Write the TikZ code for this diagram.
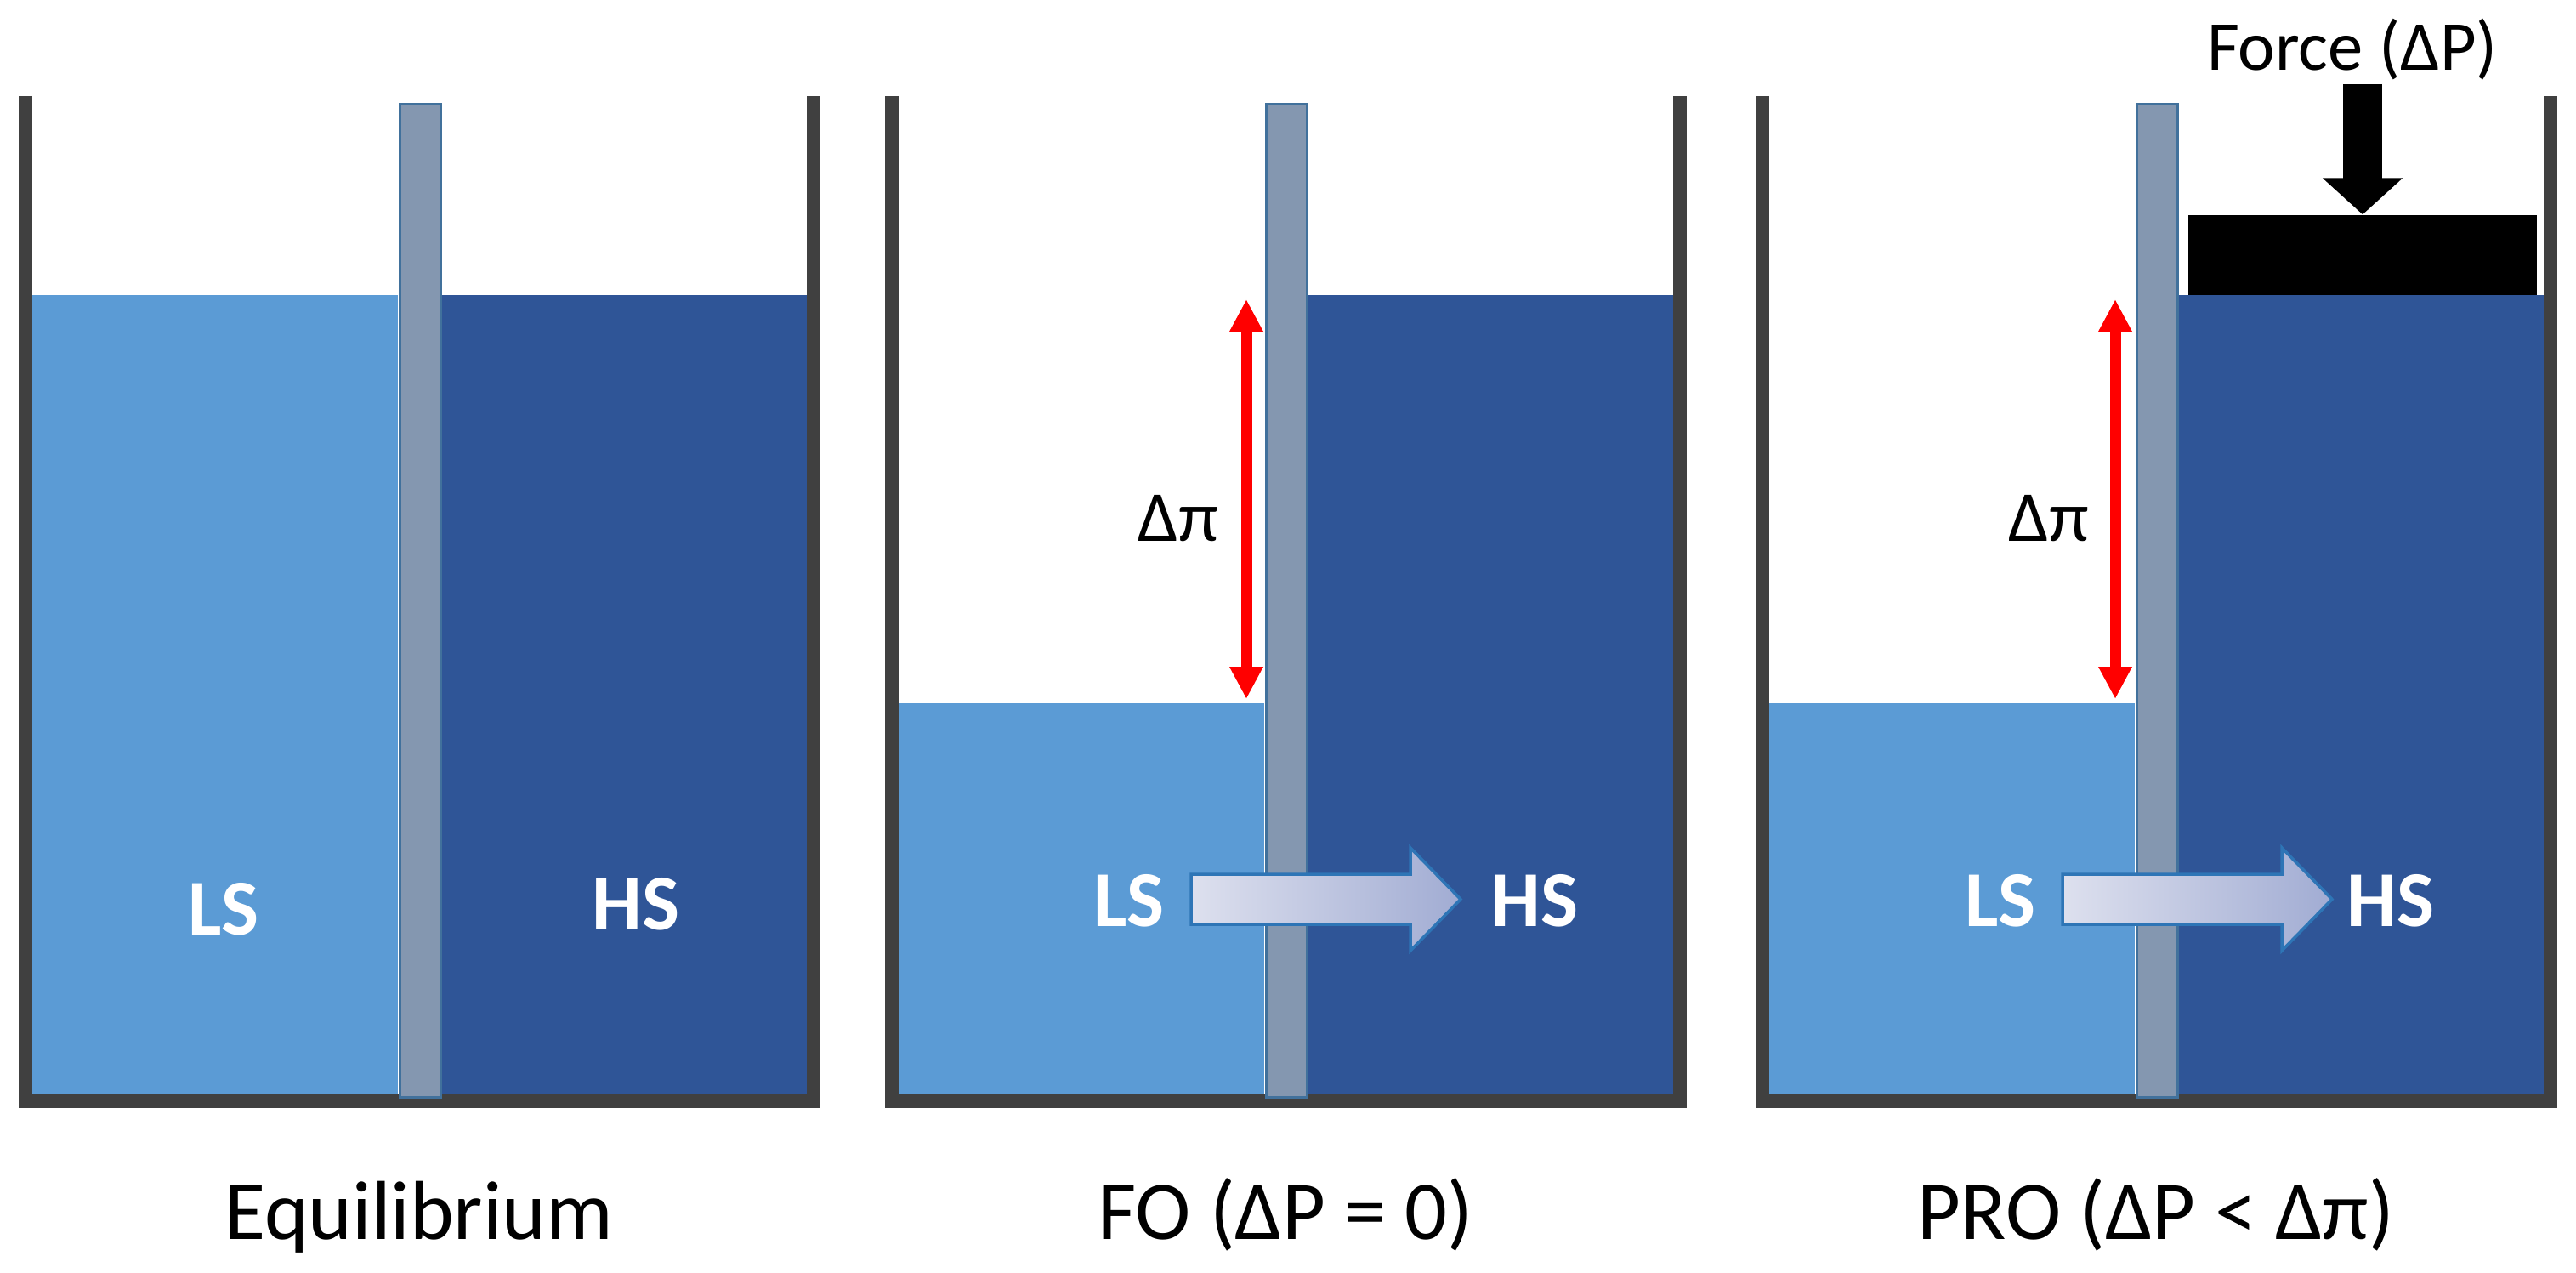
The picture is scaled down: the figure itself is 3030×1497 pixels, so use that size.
\documentclass[tikz,border=0pt]{standalone}
\usepackage{fontspec}
\setmainfont{Carlito}
\usetikzlibrary{arrows.meta}
\definecolor{wallgray}{RGB}{64,64,64}
\definecolor{lightwater}{RGB}{91,155,213}
\definecolor{darkwater}{RGB}{47,85,151}
\definecolor{membfill}{RGB}{132,151,176}
\definecolor{membline}{RGB}{65,113,156}
\definecolor{flowleft}{RGB}{221,224,238}
\definecolor{flowright}{RGB}{161,172,211}
\definecolor{flowline}{RGB}{46,117,182}

\begin{document}
\begin{tikzpicture}[x=0.1mm,y=-0.1mm]
            \tikzstyle{every node}=[inner sep=0pt]
            \tikzstyle{wall}=[draw=wallgray, line width=1.6mm, line join=miter]
            \tikzstyle{membrane}=[fill=membfill, draw=membline, line width=0.3mm]
            \tikzstyle{lowsalt}=[fill=lightwater]
            \tikzstyle{highsalt}=[fill=darkwater]
            \tikzstyle{solute}=[text=white, font=\fontsize{26.5}{30}\selectfont\bfseries]
            \tikzstyle{caption}=[anchor=base, font=\fontsize{28}{32}\selectfont]
            \tikzstyle{dpi}=[font=\fontsize{24}{28}\selectfont]
            \tikzstyle{osmo}=[red, line width=1.3mm, {Triangle[width=3.7mm,length=3.8mm]}-{Triangle[width=3.7mm,length=3.8mm]}]
            \tikzstyle{flow}=[draw=flowline, line width=0.35mm, left color=flowleft, right color=flowright]
            \tikzstyle{push}=[black, line width=4.6mm, -{Triangle[width=9.2mm,length=4.3mm]}]
            \tikzstyle{piston}=[fill=black, minimum width=41mm, minimum height=9.4mm]

            \useasboundingbox (0,0) rectangle (3030,1497);

            % Equilibrium
            \begin{scope}[shift={(22,0)}]
            \fill[lowsalt] (16,347) rectangle (446,1287);
            \fill[highsalt] (498,347) rectangle (927,1287);
            \draw[wall] (8,113) -- (8,1295) -- (935,1295) -- (935,113);
            \draw[membrane] (448,123) rectangle (496,1290);
            \node[solute] (ls1) at (241,1069) {LS};
            \node[solute] (hs1) at (726,1063) {HS};
            \node[caption] (cap1) at (471,1457) {Equilibrium};
            \end{scope}

            % FO
            \begin{scope}[shift={(1041,0)}]
            \fill[lowsalt] (16,827) rectangle (446,1287);
            \fill[highsalt] (498,347) rectangle (927,1287);
            \draw[wall] (8,113) -- (8,1295) -- (935,1295) -- (935,113);
            \draw[membrane] (448,123) rectangle (496,1290);
            \coordinate (dp2top) at (425,352);
            \coordinate (dp2bot) at (425,822);
            \draw[osmo] (dp2top) -- (dp2bot);
            \node[dpi] (dpi2) at (345,610) {Δπ};
            \draw[flow] (360,1028) -- (618,1028) -- (618,997) -- (677,1057.5)
                -- (618,1118) -- (618,1087) -- (360,1087) -- cycle;
            \node[solute] (ls2) at (287,1059) {LS};
            \node[solute] (hs2) at (764,1059) {HS};
            \node[caption] (cap2) at (471,1457) {FO (ΔP = 0)};
            \end{scope}

            % PRO
            \begin{scope}[shift={(2065,0)}]
            \fill[lowsalt] (16,827) rectangle (446,1287);
            \fill[highsalt] (498,347) rectangle (927,1287);
            \draw[wall] (8,113) -- (8,1295) -- (935,1295) -- (935,113);
            \draw[membrane] (448,123) rectangle (496,1290);
            \node[piston] (pist) at (714,300) {};
            \coordinate (pushtop) at (714,99);
            \draw[push] (pushtop) -- (pist.north);
            \node[anchor=base, font=\fontsize{23.5}{27}\selectfont] (frc) at (702,83) {Force (ΔP)};
            \coordinate (dp3top) at (423,352);
            \coordinate (dp3bot) at (423,822);
            \draw[osmo] (dp3top) -- (dp3bot);
            \node[dpi] (dpi3) at (345,610) {Δπ};
            \draw[flow] (361,1028) -- (619,1028) -- (619,997) -- (678,1057.5)
                -- (619,1118) -- (619,1087) -- (361,1087) -- cycle;
            \node[solute] (ls3) at (288,1059) {LS};
            \node[solute] (hs3) at (747,1059) {HS};
            \node[caption] (cap3) at (471,1457) {PRO (ΔP < Δπ)};
            \end{scope}
          \end{tikzpicture}
\end{document}
